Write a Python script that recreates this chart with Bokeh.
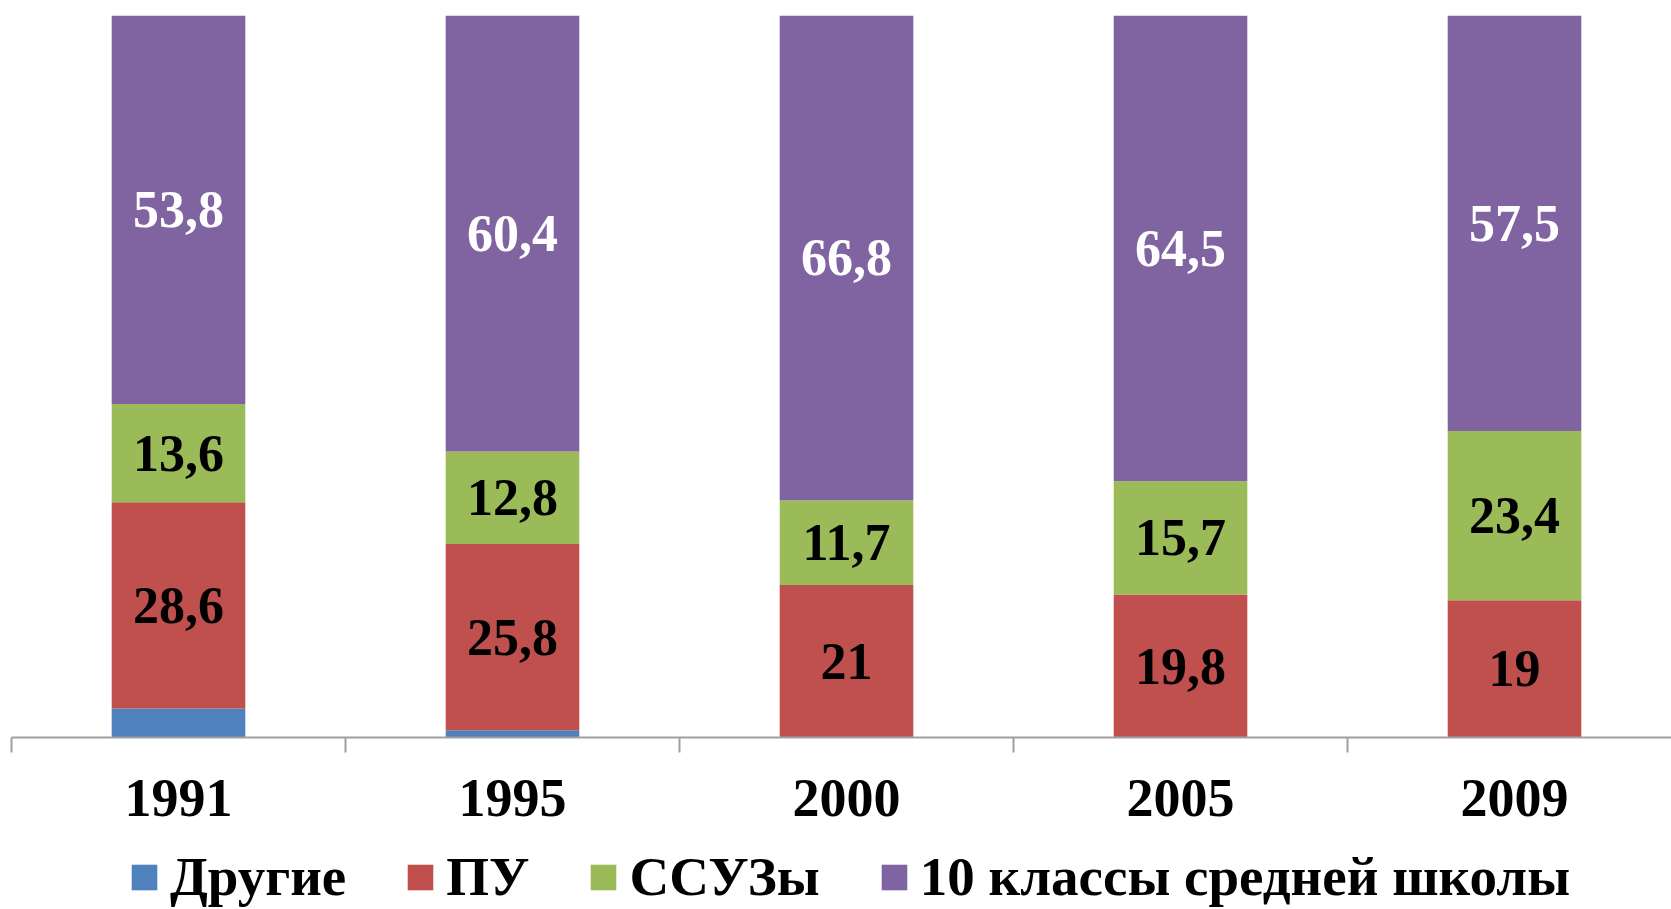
import numpy as np
from bokeh.plotting import figure
from bokeh.layouts import column
from bokeh.models import ColumnDataSource, Range1d, FixedTicker, Legend, LegendItem
from bokeh.core.properties import value
from bokeh.embed import file_html
from bokeh.resources import INLINE

years = ["1991", "1995", "2000", "2005", "2009"]
series = ["Другие", "ПУ", "ССУЗы", "10 классы средней школы"]
drugie = [4.0, 1.0, 0.0, 0.0, 0.0]
pu = [28.6, 25.8, 21.0, 19.8, 19.0]
ssuz = [13.6, 12.8, 11.7, 15.7, 23.4]
shkola = [53.8, 60.4, 66.8, 64.5, 57.5]
colors = ["#4F81BD", "#C0504D", "#9BBB59", "#8064A2"]

FONT = "Liberation Serif"
keys = ["drugie", "pu", "ssuz", "shkola"]
vals = [np.array(v, dtype=float) for v in (drugie, pu, ssuz, shkola)]
total = sum(vals)
pct = [v / total * 100 for v in vals]  # 100% stacked
x = [i + 0.5 for i in range(len(years))]
src = ColumnDataSource(dict(x=x, **{k: list(v) for k, v in zip(keys, pct)}))

p = figure(frame_width=1660, frame_height=722, output_backend="svg", toolbar_location=None,
           x_range=Range1d(0, 4.97), y_range=Range1d(0, 100),
           min_border_left=11, min_border_right=0, min_border_top=15, min_border_bottom=100)
p.outline_line_color = None
p.xgrid.grid_line_color = None
p.ygrid.grid_line_color = None
p.yaxis.visible = False

rs = p.vbar_stack(keys, x="x", width=0.4, source=src, color=colors, line_width=0)

# data labels
bottom = np.zeros(len(years))
for k in range(len(keys)):
    if k > 0:
        mid = bottom + pct[k] / 2
        txt = [("%g" % a).replace(".", ",") for a in vals[k]]
        p.text(x=x, y=list(mid), text=txt, text_align="center", text_baseline="middle",
               text_font=value(FONT), text_font_style="bold", text_font_size="52px",
               text_color="white" if k == 3 else "black")
    bottom = bottom + pct[k]

ax = p.xaxis[0]
ax.ticker = FixedTicker(ticks=x, minor_ticks=list(range(0, 6)))
ax.major_label_overrides = {xx: y for xx, y in zip(x, years)}
ax.major_tick_out = 0
ax.major_tick_in = 0
ax.minor_tick_out = 15
ax.minor_tick_in = 0
ax.minor_tick_line_color = "#A0A0A0"
ax.minor_tick_line_width = 2
ax.axis_line_color = "#A0A0A0"
ax.axis_line_width = 2
ax.major_label_standoff = 27
ax.major_label_text_font = FONT
ax.major_label_text_font_style = "bold"
ax.major_label_text_font_size = "54px"
ax.major_label_text_color = "black"

# legend in a strip below the chart (its renderers are hidden, only the legend shows)
q = figure(width=1671, height=72, output_backend="svg", toolbar_location=None,
           x_range=Range1d(0, 4.97), y_range=Range1d(0, 100),
           min_border_left=0, min_border_right=0, min_border_top=0, min_border_bottom=0)
q.outline_line_color = None
q.axis.visible = False
q.grid.visible = False
lrs = q.vbar_stack(keys, x="x", width=0.4, source=src, color=colors, line_width=0)
for r in lrs:
    r.visible = False
legend = Legend(items=[LegendItem(label=s, renderers=[r]) for s, r in zip(series, lrs)],
                orientation="horizontal", location=(117, 1))
legend.label_text_font = FONT
legend.label_text_font_style = "bold"
legend.label_text_font_size = "55px"
legend.label_text_color = "black"
legend.glyph_width = 32
legend.glyph_height = 32
legend.label_standoff = 10
legend.spacing = 58
legend.border_line_color = None
legend.background_fill_alpha = 0
legend.inactive_fill_alpha = 0
legend.padding = 0
legend.margin = 0
q.add_layout(legend)

open("out.html", "w").write(file_html(column(p, q, spacing=0), INLINE))
